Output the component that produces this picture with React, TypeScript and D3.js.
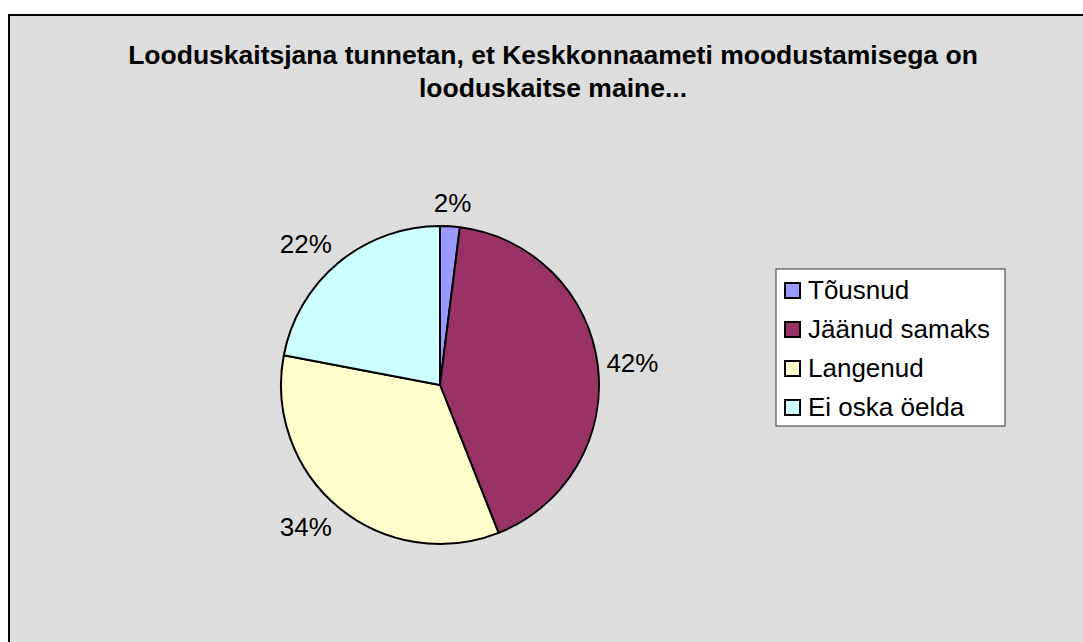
import React from 'react';
import * as d3 from 'd3';

const categories = ['Tõusnud', 'Jäänud samaks', 'Langenud', 'Ei oska öelda'];
const values = [2, 42, 34, 22];
const colors = ['#9999FF', '#993366', '#FFFFCC', '#CCFFFF'];
const titleLines = [
  'Looduskaitsjana tunnetan, et Keskkonnaameti moodustamisega on',
  'looduskaitse maine...',
];

const W = 1083;
const H = 642;
const font = '"Liberation Sans", Arial, sans-serif';
const fs = 26;

export default function App() {
  const cx = 440;
  const cy = 385;
  const r = 159;

  const pie = d3.pie<number>().sort(null).value((d) => d)(values);
  const arc = d3.arc<d3.PieArcDatum<number>>().innerRadius(0).outerRadius(r);
  const total = d3.sum(values);
  const clamp = (v: number) => Math.max(-1, Math.min(1, v * 1.5));

  // legend rows
  const rowY = d3
    .scalePoint<string>()
    .domain(categories)
    .range([299, 299 + 39 * (categories.length - 1)]);

  return (
    <svg
      width={W}
      height={H}
      style={{ position: 'absolute', left: 0, top: 0, background: '#fff' }}
    >
      <rect x={9} y={15} width={W + 20} height={H + 20} fill="#DDDDDD" stroke="#000" strokeWidth={2} />

      {titleLines.map((t, i) => (
        <text
          key={i}
          x={553}
          y={64 + i * 33}
          textAnchor="middle"
          fontFamily={font}
          fontWeight="bold"
          fontSize={26.5}
          fill="#000"
        >
          {t}
        </text>
      ))}

      <g transform={`translate(${cx},${cy})`}>
        {pie.map((d, i) => (
          <path key={i} d={arc(d) || ''} fill={colors[i]} stroke="#000" strokeWidth={2} strokeLinejoin="round" />
        ))}
        {pie.map((d, i) => {
          const a = (d.startAngle + d.endAngle) / 2;
          const sx = Math.sin(a);
          const sy = -Math.cos(a);
          const label = `${Math.round((d.value / total) * 100)}%`;
          const w = (label.length - 1) * 0.556 * fs + 0.889 * fs;
          const h = 19;
          // label box sits just outside the rim
          const gap = 8 + 6 * Math.abs(sy);
          const x = (r + gap) * sx + (w / 2) * clamp(sx);
          const y = (r + gap) * sy + (h / 2) * clamp(sy);
          return (
            <text
              key={'l' + i}
              x={x}
              y={y + h / 2}
              textAnchor="middle"
              fontFamily={font}
              fontSize={fs}
              fill="#000"
            >
              {label}
            </text>
          );
        })}
      </g>

      <rect x={776} y={269} width={229} height={157} fill="#fff" stroke="#333" strokeWidth={1} />
      {categories.map((c, i) => {
        const y = rowY(c) as number;
        return (
          <g key={c}>
            <rect x={785} y={y - 16} width={15} height={15} fill={colors[i]} stroke="#000" strokeWidth={2} />
            <text x={808} y={y} fontFamily={font} fontSize={fs} fill="#000">
              {c}
            </text>
          </g>
        );
      })}
    </svg>
  );
}
